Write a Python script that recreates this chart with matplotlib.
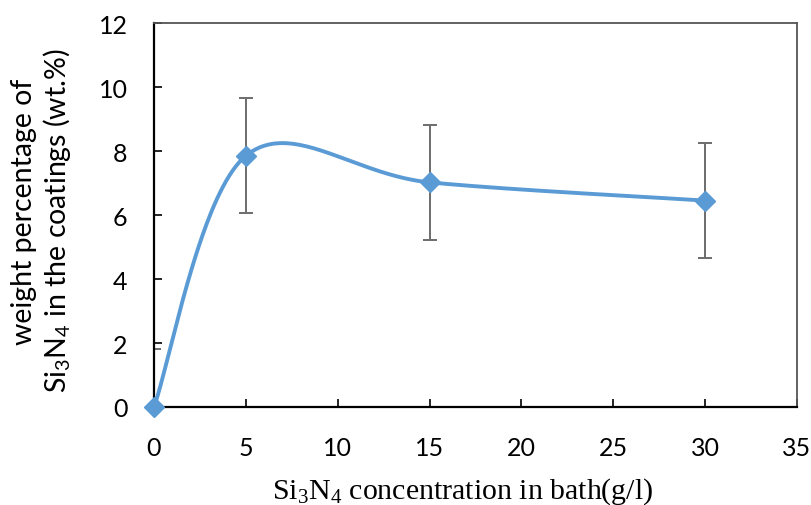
import numpy as np
import matplotlib
matplotlib.use("Agg")
import matplotlib.pyplot as plt

# Data
concentration = [0, 5, 15, 30]
weight_pct = [0.0, 7.85, 7.02, 6.45]
err = [1.8, 1.8, 1.8, 1.8]
xticks = [0, 5, 10, 15, 20, 25, 30, 35]
yticks = [0, 2, 4, 6, 8, 10, 12]

blue = "#5B9BD5"
grey = "#6d6d6d"

fig = plt.figure(figsize=(8.12, 5.06), dpi=100)
ax = fig.add_axes([154/812, 98/506, (797-154)/812, (408-24)/506])
ax.set_xlim(0, 35)
ax.set_ylim(0, 12)

# Excel-style smoothed line (Bezier through points, computed in display space)
pts = ax.transData.transform(np.column_stack([concentration, weight_pct]))
n = len(pts)
curve = []
t = np.linspace(0, 1, 80)[:, None]
for i in range(n - 1):
    p0 = pts[i]
    p3 = pts[i + 1]
    pm = pts[i - 1] if i > 0 else pts[i]
    pp = pts[i + 2] if i + 2 < n else pts[i + 1]
    c1 = p0 + (p3 - pm) / 6.0
    c2 = p3 - (pp - p0) / 6.0
    seg = (1 - t) ** 3 * p0 + 3 * (1 - t) ** 2 * t * c1 + 3 * (1 - t) * t ** 2 * c2 + t ** 3 * p3
    curve.append(seg)
curve = np.vstack(curve)
curve_data = ax.transData.inverted().transform(curve)
ax.plot(curve_data[:, 0], curve_data[:, 1], color=blue, lw=2.8, zorder=3,
        solid_capstyle="round")

# Error bars
ax.errorbar(concentration, weight_pct, yerr=err, fmt="none", ecolor=grey,
            elinewidth=1.4, capsize=4.7, capthick=1.4, zorder=2)

# Markers
ax.plot(concentration, weight_pct, linestyle="none", marker="D", markersize=10,
        color=blue, zorder=4, clip_on=False)

ax.set_xticks(xticks)
ax.set_yticks(yticks)
tick_font = dict(family="Lato", size=18)
ax.set_xticklabels([str(v) for v in xticks], **tick_font)
ax.set_yticklabels([str(v) for v in yticks], **tick_font)
ax.tick_params(axis="both", direction="in", length=6, width=1.2, colors="black")
ax.tick_params(axis="x", pad=21)
ax.tick_params(axis="y", pad=19)

for side in ["left", "bottom"]:
    ax.spines[side].set_color("black")
    ax.spines[side].set_linewidth(1.6)
for side in ["top", "right"]:
    ax.spines[side].set_color("#555555")
    ax.spines[side].set_linewidth(1.3)

fig.text(24/812, 1 - 212/506, "weight percentage of", rotation=90,
         ha="center", va="center", family="Lato", size=20.5)
fig.text(57/812, 1 - 221/506, r"$\mathregular{Si_3N_4}$ in the coatings (wt.%)",
         rotation=90, ha="center", va="center", family="Lato", size=20.5)

fig.text(463/812, 1 - 499/506, r"$\mathregular{Si_3N_4}$ concentration in bath(g/l)",
         ha="center", va="baseline", family="Liberation Serif", size=21.5)

fig.savefig("out.png", dpi=100)
